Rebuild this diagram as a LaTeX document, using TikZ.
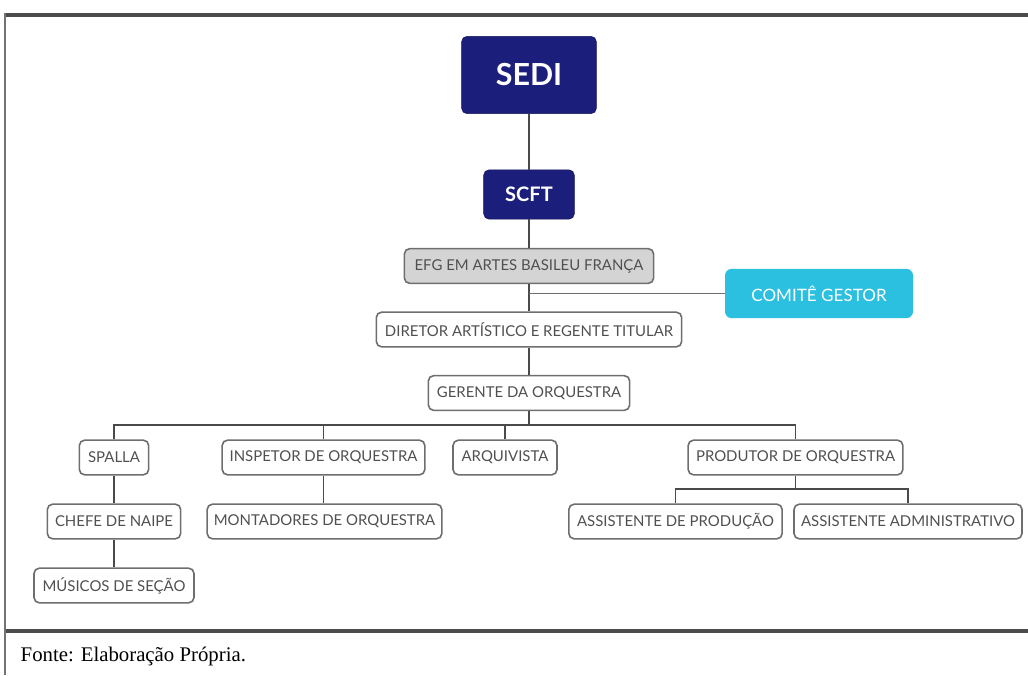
\documentclass[tikz,border=0pt]{standalone}
\usepackage{fontspec}
\setmainfont{Liberation Serif}
\newfontfamily\orgfont{Lato}
\usetikzlibrary{calc,positioning}
\definecolor{navy}{HTML}{1B1F7B}
\definecolor{ciano}{HTML}{2BBFE0}
\definecolor{cinza}{HTML}{D4D4D4}
\definecolor{borda}{HTML}{6E6E6E}
\definecolor{linha}{HTML}{4A4A4A}
\definecolor{texto}{HTML}{505050}
\tikzset{
  caixa/.style={draw=borda, line width=1.2pt, rounded corners=4pt, fill=white,
    text=texto, font=\orgfont\fontsize{11.2}{13}\selectfont, minimum height=26pt, inner xsep=3pt},
  chefia/.style={fill=navy, draw=navy!70!black, rounded corners=4pt, text=white},
  ligacao/.style={draw=linha, line width=1.4pt}
}

\begin{document}
\begin{tikzpicture}[x=0.75pt,y=-0.75pt]
    \useasboundingbox (0,0) rectangle (1028,675);
    % moldura da tabela
    \draw [line width=2.4pt, black!70] (4,15) -- (1028,15);
    \draw [line width=2.4pt, black!70] (4,631) -- (1028,631);
    \draw [line width=1.1pt, black!55] (5,13) -- (5,675);
    \node [anchor=west, font=\fontsize{15.6}{18}\selectfont] (fonte) at (16,656) {Fonte: Elaboração Própria.};

    % niveis superiores
    \node [chefia, minimum width=101pt, minimum height=58pt, font=\orgfont\bfseries\fontsize{22.8}{26}\selectfont] (sedi) at (529,75) {SEDI};
    \node [chefia, minimum width=68pt, minimum height=37pt, font=\orgfont\bfseries\fontsize{15}{18}\selectfont] (scft) at (529,194.5) {SCFT};
    \node [caixa, fill=cinza, minimum width=187pt] (efg) at (529,266) {EFG EM ARTES BASILEU FRANÇA};
    \node [fill=ciano, rounded corners=5pt, text=white, minimum width=141pt, minimum height=37pt, font=\orgfont\fontsize{12.8}{15}\selectfont] (comite) at (819,293.5) {COMITÊ GESTOR};
    \node [caixa, minimum width=229pt] (diretor) at (529,329.5) {DIRETOR ARTÍSTICO E REGENTE TITULAR};
    \node [caixa, minimum width=151pt] (gerente) at (529,393) {GERENTE DA ORQUESTRA};

    % equipe
    \node [caixa, minimum width=52pt] (spalla) at (114,457.5) {SPALLA};
    \node [caixa, minimum width=152pt] (inspetor) at (323.5,457.5) {INSPETOR DE ORQUESTRA};
    \node [caixa, minimum width=78pt] (arquivista) at (505,457.5) {ARQUIVISTA};
    \node [caixa, minimum width=161pt] (produtor) at (795.5,457.5) {PRODUTOR DE ORQUESTRA};
    \node [caixa, minimum width=100pt] (chefe) at (114,521.5) {CHEFE DE NAIPE};
    \node [caixa, minimum width=176pt] (montadores) at (324.5,521.5) {MONTADORES DE ORQUESTRA};
    \node [caixa, minimum width=120pt] (musicos) at (114,585.5) {MÚSICOS DE SEÇÃO};
    \node [caixa, minimum width=160pt] (assprod) at (675.5,521.5) {ASSISTENTE DE PRODUÇÃO};
    \node [caixa, minimum width=171pt] (assadm) at (908,521.5) {ASSISTENTE ADMINISTRATIVO};

    % ligacoes
    \coordinate (bus) at (529,425);
    \coordinate (busprod) at (795.5,489);
    \draw [ligacao] (sedi.south) -- (scft.north);
    \draw [ligacao] (scft.south) -- (efg.north);
    \draw [ligacao] (efg.south) -- (diretor.north);
    \draw [ligacao] (diretor.south) -- (gerente.north);
    \draw [draw=borda, line width=0.7pt] (comite.west) -- (comite.west -| efg.south);
    \draw [ligacao] (gerente.south) -- (bus);
    \draw [ligacao] (spalla.north) |- (bus);
    \draw [ligacao] (produtor.north) |- (bus);
    \draw [ligacao] (inspetor.north) -- (inspetor.north |- bus);
    \draw [ligacao] (arquivista.north) -- (arquivista.north |- bus);
    \draw [ligacao] (spalla.south) -- (chefe.north);
    \draw [ligacao] (chefe.south) -- (musicos.north);
    \draw [ligacao] (inspetor.south) -- (montadores.north -| inspetor.south);
    \draw [ligacao] (produtor.south) -- (busprod);
    \draw [ligacao] (assprod.north) |- (busprod);
    \draw [ligacao] (assadm.north) |- (busprod);
  \end{tikzpicture}
\end{document}
